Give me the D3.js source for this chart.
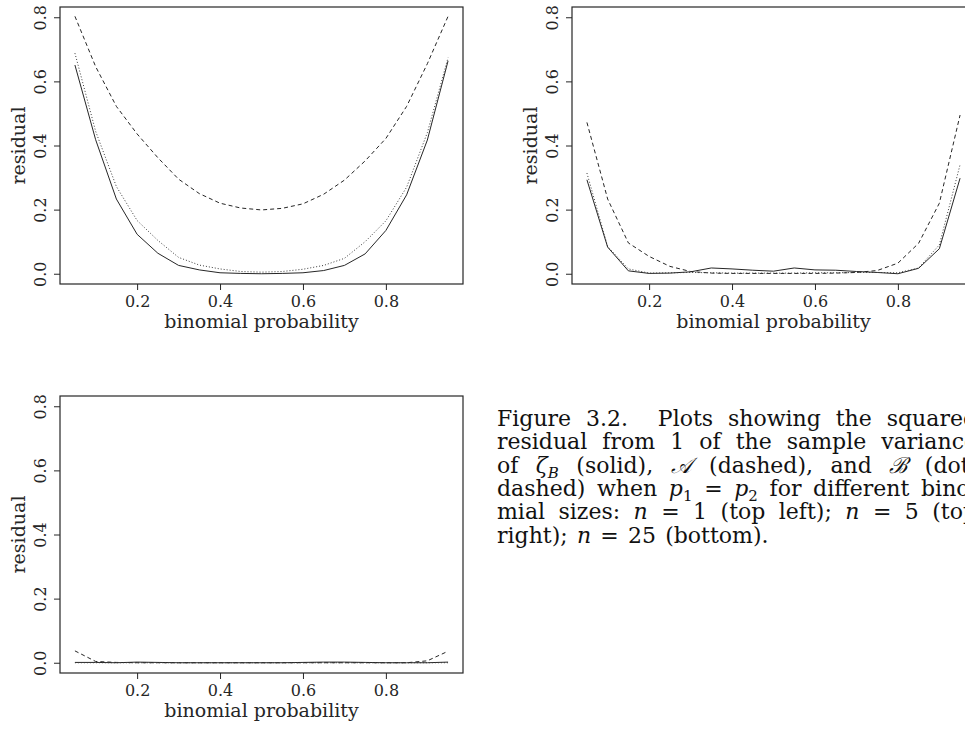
<!DOCTYPE html>
<html>
<head>
<meta charset="utf-8">
<script src="https://cdn.jsdelivr.net/npm/d3@7"></script>
<style>
  body { margin: 0; background: #fff; }
  svg { display: block; }
</style>
</head>
<body>
<div id="chart"></div>
<script>
// binomial probabilities on the x axis
const probs = [0.05, 0.10, 0.15, 0.20, 0.25, 0.30, 0.35, 0.40, 0.45, 0.50,
               0.55, 0.60, 0.65, 0.70, 0.75, 0.80, 0.85, 0.90, 0.95];

// n = 1 (top left)
const n1Solid  = [0.651, 0.418, 0.233, 0.123, 0.064, 0.026, 0.012, 0.003, 0.001, 0.000,
                  0.001, 0.003, 0.010, 0.026, 0.062, 0.135, 0.246, 0.417, 0.664];
const n1Dashed = [0.803, 0.646, 0.522, 0.436, 0.362, 0.295, 0.250, 0.220, 0.205, 0.199,
                  0.204, 0.218, 0.248, 0.292, 0.352, 0.422, 0.522, 0.655, 0.803];
const n1Dotted = [0.688, 0.444, 0.272, 0.166, 0.104, 0.051, 0.027, 0.015, 0.007, 0.005,
                  0.007, 0.014, 0.026, 0.048, 0.100, 0.165, 0.270, 0.440, 0.674];

// n = 5 (top right)
const n5Solid  = [0.293, 0.083, 0.009, 0.001, 0.002, 0.006, 0.018, 0.015, 0.011, 0.008,
                  0.018, 0.012, 0.011, 0.007, 0.004, 0.000, 0.017, 0.078, 0.298];
const n5Dashed = [0.472, 0.233, 0.096, 0.054, 0.023, 0.007, 0.002, 0.001, 0.001, 0.001,
                  0.001, 0.001, 0.002, 0.004, 0.010, 0.033, 0.095, 0.220, 0.495];
const n5Dotted = [0.314, 0.085, 0.015, 0.002, 0.003, 0.004, 0.003, 0.002, 0.002, 0.002,
                  0.002, 0.003, 0.003, 0.004, 0.004, 0.003, 0.018, 0.090, 0.340];

// n = 25 (bottom)
const n25Solid  = [0.001, 0.001, 0.000, 0.002, 0.001, 0.000, 0.000, 0.000, 0.000, 0.000,
                   0.000, 0.001, 0.002, 0.002, 0.001, 0.000, 0.000, 0.000, 0.002];
const n25Dashed = [0.037, 0.004, 0.001, 0.000, 0.000, 0.000, 0.000, 0.000, 0.000, 0.000,
                   0.000, 0.000, 0.000, 0.000, 0.000, 0.000, 0.000, 0.006, 0.036];
const n25Dotted = [0.000, 0.000, 0.000, 0.000, 0.000, 0.000, 0.000, 0.000, 0.000, 0.000,
                   0.000, 0.000, 0.000, 0.000, 0.000, 0.000, 0.000, 0.000, 0.000];

const xTicks = [0.2, 0.4, 0.6, 0.8];
const yTicks = [0.0, 0.2, 0.4, 0.6, 0.8];
const xLabel = "binomial probability";
const yLabel = "residual";

// caption, one entry per line; each word is a list of [text, style] pieces
const captionLines = [
  [[["Figure"]], [["3.2."]], [[""]], [["Plots"]], [["showing"]], [["the"]], [["squared"]]],
  [[["residual"]], [["from"]], [["1"]], [["of"]], [["the"]], [["sample"]], [["variance"]]],
  [[["of"]], [["ζ", "i"], ["B", "subi"]], [["(solid),"]], [["𝒜", "cal"]], [["(dashed),"]], [["and"]], [["ℬ", "cal"]], [["(dot-"]]],
  [[["dashed)"]], [["when"]], [["p", "i"], ["1", "sub"]], [["="]], [["p", "i"], ["2", "sub"]], [["for"]], [["different"]], [["bino-"]]],
  [[["mial"]], [["sizes:"]], [["n", "i"]], [["="]], [["1"]], [["(top"]], [["left);"]], [["n", "i"]], [["="]], [["5"]], [["(top"]]],
  [[["right);"]], [["n", "i"]], [["="]], [["25"]], [["(bottom)."]]]
];

const W = 965, H = 729;
const font = "'DejaVu Serif', 'Liberation Serif', serif";
const ink = "#262626";

const svg = d3.select("#chart").append("svg")
    .attr("width", W)
    .attr("height", H)
    .style("font-family", font);

svg.append("rect").attr("width", W).attr("height", H).attr("fill", "#fff");

// plot box positions (R style: axis limits padded by 4%)
const panels = [
  { left: 60,  top: 7,   solid: n1Solid,  dashed: n1Dashed,  dotted: n1Dotted },
  { left: 572, top: 7,   solid: n5Solid,  dashed: n5Dashed,  dotted: n5Dotted },
  { left: 60,  top: 396, solid: n25Solid, dashed: n25Dashed, dotted: n25Dotted }
];
const boxW = 403, boxH = 277;

const lineStyles = [
  { key: "solid",  dash: null },
  { key: "dashed", dash: "4,3" },
  { key: "dotted", dash: "1,2" }
];

panels.forEach(p => {
  const g = svg.append("g").attr("transform", `translate(${p.left}, ${p.top})`);

  const x = d3.scaleLinear().domain([0.014, 0.986]).range([0, boxW]);
  const y = d3.scaleLinear().domain([-0.032, 0.832]).range([boxH, 0]);

  // y axis with rotated labels
  const ya = g.append("g")
      .call(d3.axisLeft(y).tickValues(yTicks).tickSize(6).tickFormat(d3.format(".1f")));
  ya.select(".domain").remove();
  ya.selectAll("line").attr("stroke", ink);
  ya.selectAll("text")
      .attr("transform", "rotate(-90)")
      .attr("x", 0)
      .attr("y", -14)
      .attr("dy", 0)
      .attr("text-anchor", "middle")
      .attr("fill", ink)
      .style("font-family", font)
      .style("font-size", "16px");

  // x axis
  const xa = g.append("g")
      .attr("transform", `translate(0, ${boxH})`)
      .call(d3.axisBottom(x).tickValues(xTicks).tickSize(6).tickFormat(d3.format(".1f")));
  xa.select(".domain").remove();
  xa.selectAll("line").attr("stroke", ink);
  xa.selectAll("text")
      .attr("y", 22.5)
      .attr("dy", 0)
      .attr("fill", ink)
      .style("font-family", font)
      .style("font-size", "16px");

  // axis titles
  g.append("text")
      .attr("x", boxW / 2)
      .attr("y", boxH + 44)
      .attr("text-anchor", "middle")
      .attr("fill", ink)
      .style("font-size", "19px")
      .text(xLabel);

  g.append("text")
      .attr("transform", `translate(-35, ${boxH / 2}) rotate(-90)`)
      .attr("text-anchor", "middle")
      .attr("fill", ink)
      .style("font-size", "19px")
      .text(yLabel);

  // the three curves
  const line = d3.line().x((d, i) => x(probs[i])).y(d => y(d));
  lineStyles.forEach(s => {
    g.append("path")
        .datum(p[s.key])
        .attr("fill", "none")
        .attr("stroke", s.key === "dotted" ? "#3a3a3a" : ink)
        .attr("stroke-width", 1)
        .attr("stroke-dasharray", s.dash)
        .attr("d", line);
  });

  // box
  g.append("rect")
      .attr("width", boxW)
      .attr("height", boxH)
      .attr("fill", "none")
      .attr("stroke", ink)
      .attr("stroke-width", 1.2);
});

// caption, justified between capLeft and capRight
const capLeft = 497, capRight = 977, capTop = 426, capLead = 23.3, capSize = 22;
const cap = svg.append("g").style("font-size", capSize + "px").attr("fill", "#111");

captionLines.forEach((words, li) => {
  const yy = capTop + li * capLead;
  const nodes = words.map(w => {
    const t = cap.append("text").attr("y", yy);
    w.forEach(seg => {
      const ts = t.append("tspan").text(seg[0]);
      if (seg[1] === "i") ts.style("font-style", "italic");
      if (seg[1] === "sub" || seg[1] === "subi") ts.attr("dy", 5).style("font-size", "15px");
      if (seg[1] === "subi") ts.style("font-style", "italic");
      if (seg[1] === "cal") ts.style("font-family", "'DejaVu Serif', serif").style("font-style", "italic");
    });
    return t;
  });
  const widths = nodes.map(t => t.node().getComputedTextLength());
  const last = li === captionLines.length - 1;
  const gap = last ? capSize * 0.42
      : (capRight - capLeft - d3.sum(widths)) / (words.length - 1);
  let xx = capLeft;
  nodes.forEach((t, i) => {
    t.attr("x", xx);
    xx += widths[i] + gap;
  });
});
</script>
</body>
</html>
